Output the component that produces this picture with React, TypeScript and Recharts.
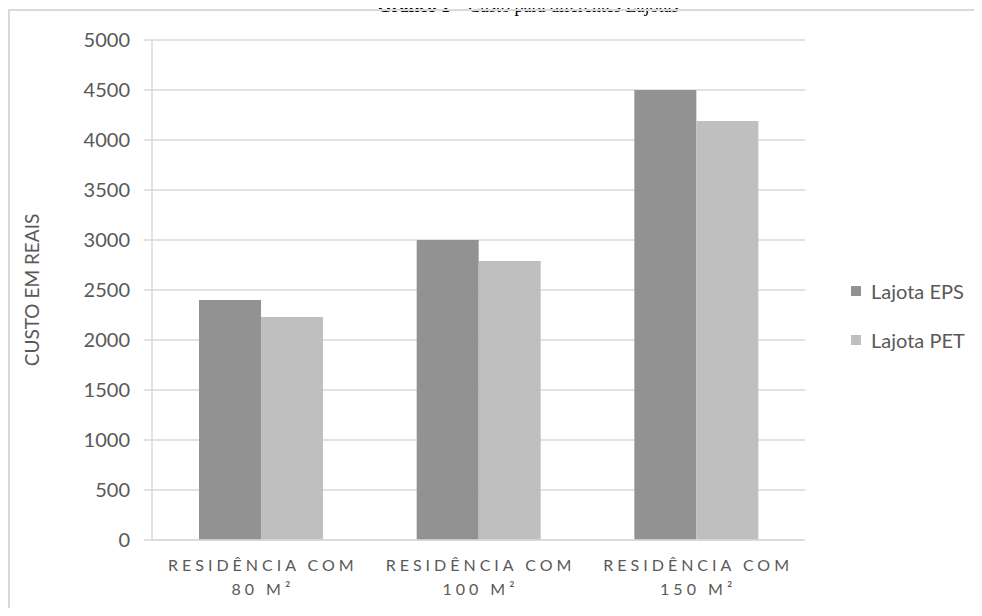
import { Bar, BarChart, CartesianGrid, Legend, XAxis, YAxis } from 'recharts';

const categories = ['RESIDÊNCIA COM|80 M²', 'RESIDÊNCIA COM|100 M²', 'RESIDÊNCIA COM|150 M²'];
const lajotaEps = [2400, 3000, 4500];
const lajotaPet = [2230, 2790, 4190];
const yTicks = [0, 500, 1000, 1500, 2000, 2500, 3000, 3500, 4000, 4500, 5000];

const data = categories.map((name, i) => ({
  name,
  eps: lajotaEps[i],
  pet: lajotaPet[i],
}));

const FONT = 'Lato, "Open Sans", sans-serif';
const GRID = '#d9d9d9';
const TEXT = '#595959';

// two-line category label with wide letter spacing
function CategoryTick({ x, y, payload }: any) {
  const [line1, line2] = String(payload.value).split('|');
  return (
    <text x={x} y={y} textAnchor="middle" fill={TEXT} fontFamily={FONT} fontSize={16} letterSpacing={4}>
      <tspan x={x + 2} dy={23}>{line1}</tspan>
      <tspan x={x + 2} dy={24}>{line2}</tspan>
    </text>
  );
}

function SideLegend({ payload }: any) {
  return (
    <div style={{ fontFamily: FONT, fontSize: 20, color: TEXT }}>
      {payload.map((p: any) => (
        <div key={p.value} style={{ display: 'flex', alignItems: 'center', height: 49 }}>
          <span style={{ width: 10, height: 10, background: p.color, marginRight: 10 }} />
          {p.value}
        </div>
      ))}
    </div>
  );
}

export default function App() {
  return (
    <div style={{ position: 'relative', width: 982, height: 616, margin: -8, overflow: 'hidden', background: '#fff' }}>
      <style>{'html, body { overflow: hidden; }'}</style>
      <div
        style={{
          position: 'absolute',
          top: -3,
          left: 37,
          width: 982,
          textAlign: 'center',
          fontFamily: '"Liberation Serif", serif',
          fontSize: 18,
          lineHeight: '18px',
          color: '#000',
          whiteSpace: 'nowrap',
        }}
      >
        <b>Gráfico 1</b> – Custo para diferentes Lajotas
      </div>
      <div
        style={{
          position: 'absolute',
          left: 8,
          top: 9,
          width: 972,
          height: 620,
          borderLeft: `2px solid ${GRID}`,
          borderTop: `2px solid ${GRID}`,
        }}
      />
      <div style={{ position: 'absolute', left: 0, top: 0 }}>
        <BarChart
          width={982}
          height={616}
          data={data}
          margin={{ top: 40, right: 177, bottom: 16, left: 0 }}
          barCategoryGap="21.6%"
          barGap={0}
        >
          <CartesianGrid vertical={false} stroke={GRID} strokeWidth={1.5} />
          <XAxis
            dataKey="name"
            height={60}
            tick={<CategoryTick />}
            tickLine={false}
            axisLine={{ stroke: GRID, strokeWidth: 1.5 }}
            interval={0}
          />
          <YAxis
            width={152}
            domain={[0, 5000]}
            ticks={yTicks}
            interval={0}
            tickSize={8}
            tickMargin={14}
            tickLine={{ stroke: GRID, strokeWidth: 1.5 }}
            axisLine={{ stroke: GRID, strokeWidth: 1.5 }}
            tick={{ fill: TEXT, fontFamily: FONT, fontSize: 20 }}
            label={{
              value: 'CUSTO EM REAIS',
              angle: -90,
              position: 'insideLeft',
              dx: 27,
              style: { textAnchor: 'middle', fill: TEXT, fontFamily: FONT, fontSize: 19 },
            }}
          />
          <Legend
            layout="vertical"
            align="center"
            verticalAlign="middle"
            content={<SideLegend />}
            wrapperStyle={{ left: 851, top: 266, width: 130 }}
          />
          <Bar dataKey="eps" name="Lajota EPS" fill="#929292" isAnimationActive={false} />
          <Bar dataKey="pet" name="Lajota PET" fill="#bfbfbf" isAnimationActive={false} />
        </BarChart>
      </div>
    </div>
  );
}
